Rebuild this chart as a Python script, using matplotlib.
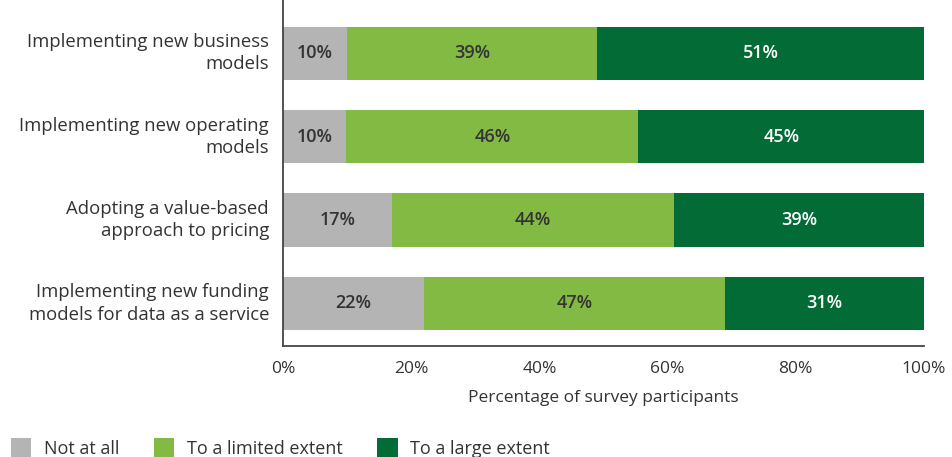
import matplotlib
matplotlib.use("Agg")
import matplotlib.pyplot as plt
from matplotlib.patches import Patch
import numpy as np

plt.rcParams['font.family'] = ['Open Sans', 'DejaVu Sans']

categories = [
    "Implementing new business\nmodels",
    "Implementing new operating\nmodels",
    "Adopting a value-based\napproach to pricing",
    "Implementing new funding\nmodels for data as a service",
]
not_at_all = [10, 10, 17, 22]
limited = [39, 46, 44, 47]
large = [51, 45, 39, 31]
series_names = ["Not at all", "To a limited extent", "To a large extent"]
colors = ["#B4B4B5", "#82BA44", "#026B36"]
xticks = [0, 20, 40, 60, 80, 100]
text_color = "#333333"

fig = plt.figure(figsize=(9.52, 4.57), dpi=100)
ax = fig.add_axes([283/952, 1-346/457, (924-283)/952, 346/457])

data = np.array([not_at_all, limited, large], dtype=float)
totals = data.sum(axis=0)
norm = data / totals * 100
y = np.arange(len(categories))
left = np.zeros(len(categories))
for i, (vals, raw) in enumerate(zip(norm, data)):
    ax.barh(y, vals, left=left, height=0.64, color=colors[i], edgecolor='none')
    for j in range(len(categories)):
        tc = "white" if i == 2 else text_color
        ax.text(left[j] + vals[j]/2, y[j], f"{int(raw[j])}%", ha='center', va='center',
                fontsize=13, fontweight='semibold', color=tc)
    left += vals

ax.set_xlim(0, 100)
ax.set_ylim(3.51, -0.64)
ax.set_yticks(y)
ax.set_yticklabels(categories, fontsize=13.3, color=text_color, linespacing=1.3, va='center')
ax.set_xticks(xticks)
ax.set_xticklabels([f"{t}%" for t in xticks], fontsize=12.5, color=text_color)
ax.tick_params(axis='x', length=0, pad=11)
ax.tick_params(axis='y', length=0, pad=10)
for s in ['top', 'right']:
    ax.spines[s].set_visible(False)
for s in ['left', 'bottom']:
    ax.spines[s].set_color('#444444')
    ax.spines[s].set_linewidth(1.3)
ax.set_xlabel("Percentage of survey participants", fontsize=12.5, color=text_color, labelpad=9)

handles = [Patch(facecolor=c, edgecolor='none') for c in colors]
fig.legend(handles, series_names, loc='lower left', bbox_to_anchor=(-0.006, -0.037),
           ncol=3, frameon=False, fontsize=13, handlelength=1.15, handleheight=1.3,
           handletextpad=0.7, columnspacing=1.9, labelcolor=text_color)

fig.savefig("out.png", dpi=100)
